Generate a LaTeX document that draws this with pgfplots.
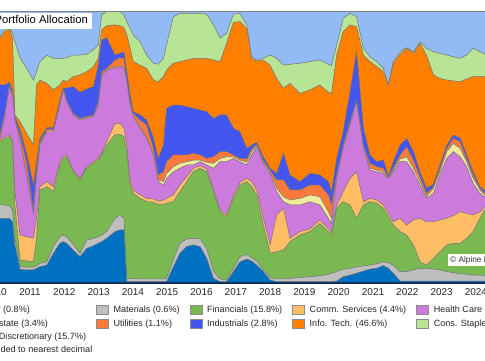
\documentclass[border=0pt]{standalone}
\usepackage{pgfplots}
\pgfplotsset{compat=1.18}
\usepackage{pgfplotstable}
\usepackage{fontspec}
\setmainfont{Liberation Sans}

\definecolor{cEn}{RGB}{0,112,192}
\definecolor{cMat}{RGB}{190,190,190}
\definecolor{cFin}{RGB}{122,184,82}
\definecolor{cCom}{RGB}{255,190,102}
\definecolor{cHC}{RGB}{204,122,220}
\definecolor{cRE}{RGB}{240,236,154}
\definecolor{cUt}{RGB}{250,122,60}
\definecolor{cInd}{RGB}{68,86,240}
\definecolor{cIT}{RGB}{255,127,0}
\definecolor{cCS}{RGB}{184,228,150}
\definecolor{cCD}{RGB}{146,186,245}
\definecolor{axnavy}{RGB}{20,45,95}
\colorlet{edge}{black!55}

\pgfplotsset{
  swatch/.style={legend image code/.code={\draw[##1, draw=black!45, line width=0.5bp] (0bp,-4.5bp) rectangle (12bp,4.5bp);}},
  band/.style={draw=edge, line width=0.5bp, forget plot},
}

% cumulative upper edge (%) of each stacked sector, bottom to top:
% b1 Energy, b2 Materials, b3 Financials, b4 Comm. Services, b5 Health Care,
% b6 Real Estate, b7 Utilities, b8 Industrials, b9 Info. Tech., b10 Cons. Staples
% (Cons. Discretionary fills the rest up to 100)
\pgfplotstableread{
x b1 b2 b3 b4 b5 b6 b7 b8 b9 b10
2009.88 23.8 28.7 52.0 52.6 53.2 53.6 55.0 72.8 90.0 90.6
2010.13 23.8 28.7 52.0 52.6 53.2 53.6 55.0 72.8 90.0 90.6
2010.27 23.8 28.7 53.2 53.8 61.8 62.0 63.0 72.8 92.4 93.4
2010.40 23.8 28.4 53.8 54.4 72.2 72.4 72.8 73.8 93.6 94.2
2010.49 22.5 26.8 52.0 52.6 69.1 69.4 69.7 71.0 90.0 91.8
2010.56 14.0 16.4 28.7 33.6 59.9 60.2 60.5 61.2 61.8 88.7
2010.71 5.1 6.0 8.5 17.6 52.0 52.2 54.4 56.3 59.3 82.6
2010.90 4.8 5.8 8.1 17.0 39.7 40.3 44.6 47.7 55.0 78.9
2011.10 4.8 5.8 7.8 16.4 25.6 26.0 26.8 36.0 50.7 74.6
2011.19 5.4 6.4 16.4 23.8 38.5 38.7 42.2 44.6 72.8 77.7
2011.29 6.0 7.2 34.2 35.4 50.7 51.0 52.0 53.2 74.6 81.4
2011.49 6.6 7.8 35.4 37.3 55.6 55.9 56.6 57.1 73.4 83.8
2011.68 10.9 13.4 33.6 35.4 55.6 55.9 56.6 57.1 71.0 82.6
2011.87 14.6 17.0 43.4 44.6 65.4 65.7 66.4 67.3 72.8 82.6
2011.97 15.2 17.6 45.8 46.4 71.0 71.2 71.6 71.8 74.6 82.6
2012.07 14.6 17.0 46.4 47.1 66.7 66.9 67.3 71.6 74.0 82.8
2012.26 12.1 14.2 40.9 41.5 61.8 62.0 62.4 72.2 75.9 83.8
2012.46 9.7 10.9 37.9 38.5 59.9 60.2 60.5 70.1 76.5 83.8
2012.65 12.7 15.8 42.2 42.8 60.5 60.8 61.2 71.3 77.7 84.1
2012.85 13.7 16.4 44.0 44.6 61.2 61.4 61.8 72.2 79.5 85.7
2012.99 14.6 17.0 45.2 45.8 65.4 65.7 66.7 80.1 82.6 87.5
2013.09 15.2 17.6 47.1 47.7 75.9 76.2 77.7 89.3 93.0 98.5
2013.23 16.4 18.9 50.7 52.0 78.3 78.6 78.9 90.2 94.6 99.8
2013.48 18.9 23.8 54.4 58.7 79.2 79.4 82.0 83.8 94.9 99.8
2013.62 19.5 25.0 54.7 58.7 79.5 79.8 82.8 84.4 94.6 99.8
2013.74 19.5 23.8 53.8 56.9 78.9 79.2 82.6 85.0 93.9 98.5
2013.82 0.7 1.7 48.3 50.7 74.0 74.3 74.6 77.7 91.2 96.1
2013.92 0.5 1.7 36.0 37.3 65.4 65.7 66.7 69.1 86.3 93.6
2014.01 0.5 1.7 33.0 34.2 61.2 61.4 62.4 63.0 81.4 91.2
2014.21 0.5 1.5 31.1 32.4 56.9 57.1 59.9 61.8 80.1 88.7
2014.40 0.5 1.5 29.9 31.1 53.2 53.4 58.1 59.9 78.9 83.8
2014.60 0.5 1.5 29.7 30.9 47.1 47.3 49.5 53.2 74.6 80.8
2014.74 0.5 1.5 28.9 30.1 37.3 37.9 39.7 45.8 74.0 80.4
2014.89 0.5 1.5 28.9 30.5 36.0 37.3 40.9 50.7 75.9 82.6
2014.98 0.5 1.7 29.3 31.1 38.5 40.3 44.6 64.2 78.3 87.5
2015.18 6.0 8.5 29.9 32.4 40.9 42.8 47.1 65.4 80.8 97.9
2015.37 10.9 14.6 33.6 36.0 42.2 44.0 47.1 65.4 81.4 99.1
2015.57 13.4 16.2 37.3 39.1 43.4 44.6 47.1 64.8 82.0 99.1
2015.76 14.0 16.4 40.9 42.2 43.4 45.2 47.7 64.2 82.6 99.1
2015.96 13.4 16.2 42.2 43.1 44.6 45.2 47.1 63.6 82.6 99.1
2016.15 9.1 12.7 40.9 41.9 43.4 44.4 45.8 63.0 82.6 98.8
2016.35 1.7 4.2 33.6 34.6 42.2 44.0 46.4 60.5 82.0 94.9
2016.54 0.5 1.5 26.2 26.8 44.6 45.8 48.3 61.8 81.4 90.0
2016.73 0.5 1.1 24.4 25.2 44.6 46.4 48.3 61.8 88.1 91.8
2016.93 4.2 5.4 31.1 32.1 45.8 46.4 47.1 56.9 95.8 98.8
2017.12 7.8 9.7 36.0 37.0 44.6 45.2 45.8 55.6 96.1 99.1
2017.32 8.8 10.5 37.3 38.5 43.4 44.4 45.6 49.5 93.6 94.9
2017.46 8.1 9.3 35.4 37.3 47.1 48.3 49.3 50.7 82.6 83.2
2017.61 6.6 8.1 32.4 34.2 50.1 50.7 51.0 51.7 81.6 81.9
2017.80 4.2 4.8 21.3 23.8 44.0 44.6 45.2 46.4 82.0 82.6
2018.00 1.1 2.0 10.9 14.0 40.3 40.9 41.5 42.2 80.1 83.8
2018.19 0.5 1.5 11.5 25.0 33.6 35.0 37.9 40.3 75.2 82.6
2018.39 0.5 1.5 12.1 27.5 29.9 31.7 37.9 47.7 71.6 80.1
2018.58 0.5 1.7 15.2 16.4 28.7 30.5 34.2 39.7 73.4 80.4
2018.87 0.5 2.0 17.6 18.9 28.7 31.1 34.2 37.3 69.7 80.8
2019.16 0.5 2.3 18.9 19.9 29.9 32.4 36.0 40.3 71.0 81.4
2019.45 0.5 2.7 21.9 23.2 28.7 31.7 36.0 39.7 72.8 82.0
2019.70 0.5 3.2 18.9 19.9 23.8 26.2 32.4 37.3 70.1 80.4
2019.79 0.5 3.6 17.6 18.6 21.9 23.8 28.7 33.6 69.7 79.9
2019.94 0.7 4.2 27.5 28.7 38.5 39.1 39.7 45.8 83.8 87.5
2020.13 2.3 5.1 29.9 33.6 49.5 50.1 50.7 55.6 92.4 97.3
2020.33 2.9 5.4 28.7 38.5 58.1 58.7 59.3 70.3 94.9 99.1
2020.52 3.6 5.9 23.8 40.9 66.7 66.9 67.3 85.0 94.2 97.9
2020.72 4.4 6.3 28.7 29.9 49.5 50.1 50.7 56.9 83.8 86.3
2020.91 5.1 6.6 29.9 31.1 41.5 42.2 44.0 47.1 81.4 83.2
2021.11 5.4 7.1 29.3 30.5 40.9 41.5 42.8 44.6 79.5 81.4
2021.30 6.4 7.8 27.5 28.7 40.3 40.9 42.2 45.2 77.7 78.9
2021.45 5.4 7.4 24.4 25.6 38.5 38.7 39.1 39.5 72.8 73.0
2021.59 3.6 6.6 21.3 22.5 40.9 41.5 42.2 44.6 80.8 81.4
2021.79 0.7 4.2 18.9 23.8 44.6 45.6 47.1 50.7 84.1 85.0
2021.98 0.7 4.2 17.6 21.3 44.6 46.4 50.1 53.2 86.3 86.5
2022.18 0.7 4.8 14.0 23.2 40.9 42.2 45.2 48.3 84.4 85.0
2022.37 0.7 5.4 7.8 23.8 36.0 37.3 39.1 40.9 88.1 88.7
2022.56 0.7 5.4 6.6 22.5 31.1 31.7 33.0 34.8 83.8 86.3
2022.76 0.7 5.1 9.1 22.5 33.0 34.8 35.4 36.3 76.5 85.0
2022.95 0.7 4.8 11.5 23.2 39.7 40.9 42.2 43.4 75.2 84.4
2023.15 0.7 4.2 14.0 23.8 45.8 48.3 49.5 50.7 74.6 83.8
2023.34 0.7 3.8 14.6 24.8 48.3 51.3 53.2 54.4 74.3 83.2
2023.54 0.7 3.4 14.6 26.2 46.4 49.5 52.0 53.2 74.0 82.6
2023.73 0.7 3.2 16.4 25.6 42.8 44.6 45.8 47.1 75.0 83.8
2023.92 0.7 2.9 18.9 25.0 36.6 38.5 39.7 40.9 75.9 86.3
2024.12 0.7 2.9 23.8 26.2 33.0 34.2 34.8 35.4 75.9 85.0
2024.31 0.7 2.7 28.1 28.7 31.1 31.7 32.4 33.6 75.9 83.8
2024.46 0.7 2.7 28.7 29.3 30.5 31.4 32.1 33.0 75.9 83.2
}\alloc

\begin{document}
\begin{tikzpicture}[x=1bp,y=1bp]
\useasboundingbox (0,0) rectangle (485,360);
\clip (0,0) rectangle (485,360);
\begin{axis}[
  at={(-7.73bp,77bp)}, anchor=south west,
  scale only axis, width=497.35bp, height=272bp,
  xmin=2009.9, xmax=2024.4, ymin=0, ymax=100,
  axis line style={draw=none},
  axis background/.style={fill=cCD},
  ytick=\empty,
  xtick={2010,2011,2012,2013,2014,2015,2016,2017,2018,2019,2020,2021,2022,2023,2024},
  xticklabels={2010,2011,2012,2013,2014,2015,2016,2017,2018,2019,2020,2021,2022,2023,2024},
  major tick length=0pt,
  tick label style={font=\fontsize{10}{12}\selectfont, text=black!85},
  xticklabel style={yshift=-2.5bp},
  legend columns=5,
  legend cell align=left,
  legend style={at={(-0.0765,-0.081)}, anchor=north west, draw=none, fill=none,
    font=\fontsize{9.1}{11}\selectfont, text=black!85,
    inner sep=0pt, row sep=4.2bp, column sep=0pt,
    nodes={inner sep=0pt, text height=6.6bp, text depth=1.9bp},
    /tikz/every odd column/.append style={column sep=5bp},
    /tikz/every even column/.append style={column sep=10bp}},
]
\addplot[band, fill=cCS]  table[x=x,y=b10]{\alloc} \closedcycle;
\addplot[band, fill=cIT]  table[x=x,y=b9]{\alloc} \closedcycle;
\addplot[band, fill=cInd] table[x=x,y=b8]{\alloc} \closedcycle;
\addplot[band, fill=cUt]  table[x=x,y=b7]{\alloc} \closedcycle;
\addplot[band, fill=cRE]  table[x=x,y=b6]{\alloc} \closedcycle;
\addplot[band, fill=cHC]  table[x=x,y=b5]{\alloc} \closedcycle;
\addplot[band, fill=cCom] table[x=x,y=b4]{\alloc} \closedcycle;
\addplot[band, fill=cFin] table[x=x,y=b3]{\alloc} \closedcycle;
\addplot[band, fill=cMat] table[x=x,y=b2]{\alloc} \closedcycle;
\addplot[band, fill=cEn]  table[x=x,y=b1]{\alloc} \closedcycle;

\addlegendimage{swatch, fill=cEn}\addlegendentry{Energy (0.8\%)}
\addlegendimage{swatch, fill=cMat}\addlegendentry{Materials (0.6\%)}
\addlegendimage{swatch, fill=cFin}\addlegendentry{Financials (15.8\%)}
\addlegendimage{swatch, fill=cCom}\addlegendentry{Comm. Services (4.4\%)}
\addlegendimage{swatch, fill=cHC}\addlegendentry{Health Care (4.9\%)}
\addlegendimage{swatch, fill=cRE}\addlegendentry{Real Estate (3.4\%)}
\addlegendimage{swatch, fill=cUt}\addlegendentry{Utilities (1.1\%)}
\addlegendimage{swatch, fill=cInd}\addlegendentry{Industrials (2.8\%)}
\addlegendimage{swatch, fill=cIT}\addlegendentry{Info. Tech. (46.6\%)}
\addlegendimage{swatch, fill=cCS}\addlegendentry{Cons. Staples (3.9\%)}
\addlegendimage{swatch, fill=cCD}\addlegendentry{Cons. Discretionary (15.7\%)}

\draw[black!50, line width=0.9bp] (rel axis cs:0,1) -- (rel axis cs:1,1);
\draw[axnavy, line width=1.2bp] (rel axis cs:0,0) -- (rel axis cs:1,0);
\end{axis}
\node[fill=white, anchor=west, inner xsep=4bp, inner ysep=2.5bp, text height=8.5bp, text depth=2.5bp,
  font=\fontsize{11.3}{13}\selectfont] at (-9.5bp,339bp) {Portfolio Allocation};
\node[fill=white, anchor=west, inner sep=2bp, font=\fontsize{8.3}{10}\selectfont, text=black!80]
  at (448bp,100bp) {\textcopyright\ Alpine Macro};
\node[anchor=east, inner sep=0pt, font=\fontsize{9.1}{11}\selectfont, text=black!85]
  at (92.5bp,10bp) {Note: Weights rounded to nearest decimal};
\end{tikzpicture}
\end{document}
